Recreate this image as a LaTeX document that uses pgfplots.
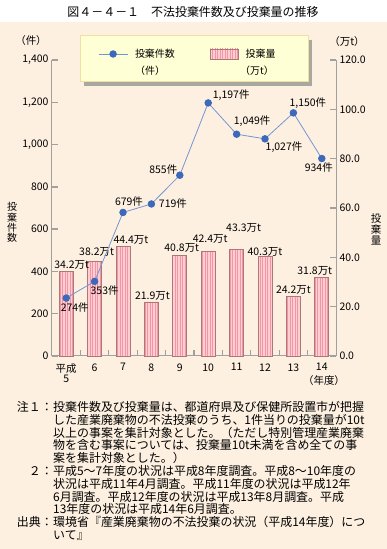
\documentclass[border=0pt]{standalone}
\usepackage{fontspec}
\setmainfont{Noto Sans CJK JP}
\usepackage{pgfplots}
\pgfplotsset{compat=1.18}
\usetikzlibrary{patterns.meta}
\definecolor{bgbeige}{RGB}{253,240,225}
\definecolor{legfill}{RGB}{255,255,213}
\definecolor{legdraw}{RGB}{240,225,160}
\definecolor{shadowgray}{RGB}{168,168,160}
\definecolor{barpink}{RGB}{255,205,210}
\definecolor{barstripe}{RGB}{240,150,165}
\definecolor{bardraw}{RGB}{170,120,120}
\definecolor{lineblue}{RGB}{115,150,210}
\definecolor{markblue}{RGB}{60,105,185}
\definecolor{axgray}{RGB}{160,160,160}
\pgfplotsset{
  common/.style={
    at={(52bp,193bp)}, anchor=south west,
    scale only axis, width=284bp, height=296bp,
    xmin=-0.5, xmax=9.5, clip=false,
    tick align=inside,
    axis line style={draw=axgray, line width=1bp},
    major tick length=6bp,
    tick style={draw=axgray, line width=1.3bp},
    tick label style={font=\fontsize{10.5}{10}\selectfont, text=black},
    /pgf/number format/assume math mode=true,
  },
  lineleg/.style={legend image code/.code={\draw[mark repeat=2,mark phase=2,##1] plot coordinates {(0bp,0bp) (14.5bp,0bp) (29bp,0bp)};}},
  barleg/.style={legend image code/.code={\draw[fill=barpink, draw=bardraw, line width=0.8bp, postaction={pattern={Lines[angle=90,distance=2.5bp,line width=1bp]}, pattern color=barstripe}] (0bp,-5bp) rectangle (28bp,5bp);}},
}
\tikzset{lbl/.style={font=\fontsize{10.5}{10.5}\selectfont, inner sep=0pt, anchor=center}}
\begin{document}
\begin{tikzpicture}
\useasboundingbox (0,0) rectangle (387bp,549bp);
\begin{scope}[x=1bp,y=-1bp,yshift=549bp]
  \fill[white] (0,0) rectangle (387,22);
  \fill[bgbeige] (0,22) rectangle (387,549);
  \node[font=\fontsize{12}{12}\selectfont] at (193,12) {図４－４－１　不法投棄件数及び投棄量の推移};
  \fill[shadowgray] (84,40) rectangle (312,86);
  \filldraw[fill=legfill, draw=legdraw, line width=1bp] (80,36) rectangle (308,82);
\end{scope}

% amounts (bars), right axis
\begin{axis}[common,
  ymin=0, ymax=120,
  axis y line*=right, axis x line*=bottom,
  ytick={0,20,...,120},
  yticklabel style={/pgf/number format/.cd, fixed, fixed zerofill, precision=1, assume math mode=true},
  xtick={0.5,1.5,2.5,3.5,4.5,5.5,6.5,7.5,8.5},
  xticklabels={{},{},{},{},{},{},{},{},{}},
  extra x ticks={0,1,2,3,4,5,6,7,8,9},
  extra x tick labels={{平成\\5},6,7,8,9,10,11,12,13,14},
  extra x tick style={major tick length=0pt, tick style={draw=none}, tick label style={align=center, yshift=-4bp}},
]
\addplot[ybar, bar width=14bp, fill=barpink, draw=bardraw, line width=0.8bp,
  postaction={pattern={Lines[angle=90,distance=2.5bp,line width=1bp]}, pattern color=barstripe}]
  coordinates {(0,34.2) (1,38.2) (2,44.4) (3,21.9) (4,40.8) (5,42.4) (6,43.3) (7,40.3) (8,24.2) (9,31.8)};
\node[lbl,xshift=5.5bp,yshift=6.6bp] at (axis cs:0,34.2) {34.2万t};
\node[lbl,xshift=2bp,yshift=10bp] at (axis cs:1,38.2) {38.2万t};
\node[lbl,xshift=8bp,yshift=6.5bp] at (axis cs:2,44.4) {44.4万t};
\node[lbl,xshift=1bp,yshift=6bp] at (axis cs:3,21.9) {21.9万t};
\node[lbl,xshift=2bp,yshift=7.4bp] at (axis cs:4,40.8) {40.8万t};
\node[lbl,xshift=2bp,yshift=12.4bp] at (axis cs:5,42.4) {42.4万t};
\node[lbl,xshift=7bp,yshift=21bp] at (axis cs:6,43.3) {43.3万t};
\node[lbl,xshift=0bp,yshift=5bp] at (axis cs:7,40.3) {40.3万t};
\node[lbl,xshift=0bp,yshift=6.3bp] at (axis cs:8,24.2) {24.2万t};
\node[lbl,xshift=-7bp,yshift=6.5bp] at (axis cs:9,31.8) {31.8万t};
\end{axis}

% counts (line), left axis
\begin{axis}[common,
  ymin=0, ymax=1400,
  axis y line*=left, axis x line=none,
  ytick={0,200,...,1400},
  yticklabel style={/pgf/number format/.cd, 1000 sep={,}, assume math mode=true},
  legend columns=2,
  legend style={at={(axis description cs:0.162,1.0203)}, anchor=west, draw=none, fill=none,
    inner sep=0pt, nodes={inner sep=0pt, font=\fontsize{10}{10}\selectfont},
    cells={anchor=west},
    /tikz/every odd column/.append style={column sep=7bp},
    /tikz/every even column/.append style={column sep=35bp}},
]
\addplot[color=lineblue, line width=0.8bp, mark=*, mark size=3.3bp,
  mark options={draw=markblue, fill=markblue}, lineleg]
  coordinates {(0,274) (1,353) (2,679) (3,719) (4,855) (5,1197) (6,1049) (7,1027) (8,1150) (9,934)};
\addlegendentry{投棄件数}
\addlegendimage{barleg}
\addlegendentry{投棄量}
\node[lbl,xshift=8.5bp,yshift=-9.5bp] at (axis cs:0,274) {274件};
\node[lbl,xshift=10bp,yshift=-9bp] at (axis cs:1,353) {353件};
\node[lbl,xshift=6bp,yshift=11bp] at (axis cs:2,679) {679件};
\node[lbl,xshift=21.5bp,yshift=0bp] at (axis cs:3,719) {719件};
\node[lbl,xshift=-16.5bp,yshift=6bp] at (axis cs:4,855) {855件};
\node[lbl,xshift=23bp,yshift=8bp] at (axis cs:5,1197) {1,197件};
\node[lbl,xshift=15.5bp,yshift=13bp] at (axis cs:6,1049) {1,049件};
\node[lbl,xshift=19bp,yshift=-8bp] at (axis cs:7,1027) {1,027件};
\node[lbl,xshift=14.5bp,yshift=10bp] at (axis cs:8,1150) {1,150件};
\node[lbl,xshift=-3bp,yshift=-9.5bp] at (axis cs:9,934) {934件};
\end{axis}

\begin{scope}[x=1bp,y=-1bp,yshift=549bp]
  \node[font=\fontsize{10}{10}\selectfont, anchor=west, inner sep=0pt] at (135,71) {（件）};
  \node[font=\fontsize{10}{10}\selectfont, anchor=west, inner sep=0pt] at (240,71) {（万t）};
  \node[font=\fontsize{10.5}{10.5}\selectfont] at (31,41) {（件）};
  \node[font=\fontsize{10.5}{10.5}\selectfont] at (347,42) {（万t）};
  \node[font=\fontsize{10.5}{10.5}\selectfont] at (324,381) {（年度）};
  \node[font=\fontsize{10}{10.3}\selectfont, align=center, inner sep=0pt] at (12,222.5) {投\\棄\\件\\数};
  \node[font=\fontsize{10.5}{11}\selectfont, align=center, inner sep=0pt] at (376,229) {投\\棄\\量};
  \begin{scope}[every node/.style={font=\fontsize{12}{12}\selectfont, inner sep=0pt}]
    \node[anchor=base east] at (53,411.5) {注１：};
    \node[anchor=base west] at (53,411.5) {投棄件数及び投棄量は、都道府県及び保健所設置市が把握};
    \node[anchor=base west] at (53,424.3) {した産業廃棄物の不法投棄のうち、1件当りの投棄量が10t};
    \node[anchor=base west] at (53,437.1) {以上の事案を集計対象とした。（ただし特別管理産業廃棄};
    \node[anchor=base west] at (53,449.9) {物を含む事案については、投棄量10t未満を含め全ての事};
    \node[anchor=base west] at (53,462.7) {案を集計対象とした。）};
    \node[anchor=base east] at (53,475.5) {２：};
    \node[anchor=base west] at (53,475.5) {平成5～7年度の状況は平成8年度調査。平成8～10年度の};
    \node[anchor=base west] at (53,488.3) {状況は平成11年4月調査。平成11年度の状況は平成12年};
    \node[anchor=base west] at (53,501.1) {6月調査。平成12年度の状況は平成13年8月調査。平成};
    \node[anchor=base west] at (53,513.9) {13年度の状況は平成14年6月調査。};
    \node[anchor=base east] at (53,526.7) {出典：};
    \node[anchor=base west] at (53,526.7) {環境省『産業廃棄物の不法投棄の状況（平成14年度）につ};
    \node[anchor=base west] at (53,539.5) {いて』};
  \end{scope}
\end{scope}
\end{tikzpicture}
\end{document}
